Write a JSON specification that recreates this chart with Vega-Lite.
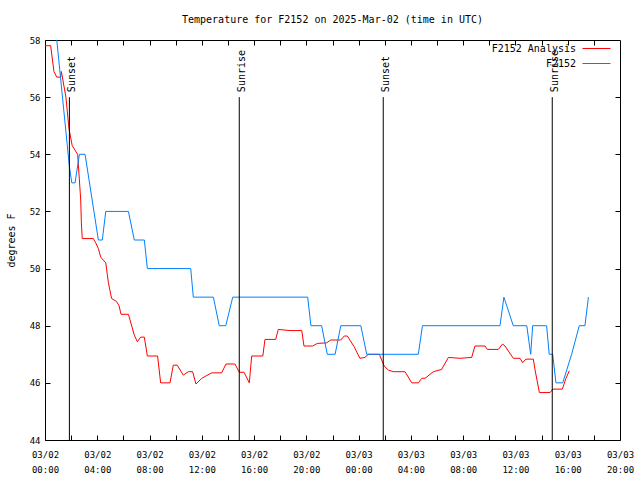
{
  "$schema": "https://vega.github.io/schema/vega-lite/v6.json",
  "width": 575,
  "height": 400,
  "autosize": {"type": "none"},
  "padding": {"left": 45, "top": 40, "right": 20, "bottom": 40},
  "background": "white",
  "title": {"text": "Temperature for F2152 on 2025-Mar-02 (time in UTC)", "font": "DejaVu Sans Mono", "fontSize": 10, "fontWeight": "normal", "color": "black", "offset": 11, "anchor": "middle", "frame": "group"},
  "config": {
    "view": {"stroke": "black", "strokeWidth": 1},
    "axis": {"grid": false, "domain": false, "tickColor": "black", "labelColor": "black", "labelFont": "DejaVu Sans Mono", "labelFontSize": 9, "titleFont": "DejaVu Sans Mono", "titleFontSize": 10, "titleFontWeight": "normal", "titleColor": "black", "tickSize": 5, "offset": -5},
    "legend": {"orient": "none", "legendX": 546, "legendY": 3, "padding": 0, "symbolType": "M-2.8,0H2.8", "symbolSize": 100, "symbolStrokeWidth": 1, "labelAlign": "right", "labelOffset": -26, "labelFont": "DejaVu Sans Mono", "labelFontSize": 10, "labelColor": "black", "rowPadding": 4}
  },
  "datasets": {
    "temps": [
      {"series": "F2152 Analysis", "time": "2025-03-02T00:00:00Z", "temp": 57.8},
      {"series": "F2152 Analysis", "time": "2025-03-02T00:26:00Z", "temp": 57.8},
      {"series": "F2152 Analysis", "time": "2025-03-02T00:41:00Z", "temp": 56.9},
      {"series": "F2152 Analysis", "time": "2025-03-02T00:54:00Z", "temp": 56.7},
      {"series": "F2152 Analysis", "time": "2025-03-02T01:12:00Z", "temp": 56.7},
      {"series": "F2152 Analysis", "time": "2025-03-02T01:15:00Z", "temp": 56.9},
      {"series": "F2152 Analysis", "time": "2025-03-02T01:36:00Z", "temp": 56.0},
      {"series": "F2152 Analysis", "time": "2025-03-02T01:50:00Z", "temp": 54.9},
      {"series": "F2152 Analysis", "time": "2025-03-02T02:05:00Z", "temp": 54.3},
      {"series": "F2152 Analysis", "time": "2025-03-02T02:30:00Z", "temp": 54.0},
      {"series": "F2152 Analysis", "time": "2025-03-02T02:44:00Z", "temp": 52.4},
      {"series": "F2152 Analysis", "time": "2025-03-02T02:47:00Z", "temp": 51.6},
      {"series": "F2152 Analysis", "time": "2025-03-02T02:51:00Z", "temp": 51.05},
      {"series": "F2152 Analysis", "time": "2025-03-02T03:42:00Z", "temp": 51.05},
      {"series": "F2152 Analysis", "time": "2025-03-02T03:53:00Z", "temp": 50.9},
      {"series": "F2152 Analysis", "time": "2025-03-02T04:05:00Z", "temp": 50.7},
      {"series": "F2152 Analysis", "time": "2025-03-02T04:16:00Z", "temp": 50.4},
      {"series": "F2152 Analysis", "time": "2025-03-02T04:39:00Z", "temp": 50.2},
      {"series": "F2152 Analysis", "time": "2025-03-02T04:46:00Z", "temp": 49.8},
      {"series": "F2152 Analysis", "time": "2025-03-02T04:51:00Z", "temp": 49.5},
      {"series": "F2152 Analysis", "time": "2025-03-02T05:06:00Z", "temp": 48.95},
      {"series": "F2152 Analysis", "time": "2025-03-02T05:28:00Z", "temp": 48.85},
      {"series": "F2152 Analysis", "time": "2025-03-02T05:40:00Z", "temp": 48.7},
      {"series": "F2152 Analysis", "time": "2025-03-02T05:49:00Z", "temp": 48.4},
      {"series": "F2152 Analysis", "time": "2025-03-02T06:23:00Z", "temp": 48.4},
      {"series": "F2152 Analysis", "time": "2025-03-02T06:50:00Z", "temp": 47.67},
      {"series": "F2152 Analysis", "time": "2025-03-02T07:04:00Z", "temp": 47.44},
      {"series": "F2152 Analysis", "time": "2025-03-02T07:19:00Z", "temp": 47.6},
      {"series": "F2152 Analysis", "time": "2025-03-02T07:36:00Z", "temp": 47.6},
      {"series": "F2152 Analysis", "time": "2025-03-02T07:50:00Z", "temp": 46.94},
      {"series": "F2152 Analysis", "time": "2025-03-02T08:37:00Z", "temp": 46.94},
      {"series": "F2152 Analysis", "time": "2025-03-02T08:51:00Z", "temp": 46.0},
      {"series": "F2152 Analysis", "time": "2025-03-02T09:34:00Z", "temp": 46.0},
      {"series": "F2152 Analysis", "time": "2025-03-02T09:49:00Z", "temp": 46.62},
      {"series": "F2152 Analysis", "time": "2025-03-02T10:07:00Z", "temp": 46.62},
      {"series": "F2152 Analysis", "time": "2025-03-02T10:35:00Z", "temp": 46.27},
      {"series": "F2152 Analysis", "time": "2025-03-02T10:58:00Z", "temp": 46.39},
      {"series": "F2152 Analysis", "time": "2025-03-02T11:18:00Z", "temp": 46.39},
      {"series": "F2152 Analysis", "time": "2025-03-02T11:33:00Z", "temp": 45.96},
      {"series": "F2152 Analysis", "time": "2025-03-02T12:00:00Z", "temp": 46.16},
      {"series": "F2152 Analysis", "time": "2025-03-02T12:45:00Z", "temp": 46.35},
      {"series": "F2152 Analysis", "time": "2025-03-02T13:31:00Z", "temp": 46.35},
      {"series": "F2152 Analysis", "time": "2025-03-02T13:51:00Z", "temp": 46.66},
      {"series": "F2152 Analysis", "time": "2025-03-02T14:32:00Z", "temp": 46.66},
      {"series": "F2152 Analysis", "time": "2025-03-02T14:52:00Z", "temp": 46.37},
      {"series": "F2152 Analysis", "time": "2025-03-02T15:14:00Z", "temp": 46.37},
      {"series": "F2152 Analysis", "time": "2025-03-02T15:38:00Z", "temp": 46.0},
      {"series": "F2152 Analysis", "time": "2025-03-02T15:49:00Z", "temp": 46.94},
      {"series": "F2152 Analysis", "time": "2025-03-02T16:40:00Z", "temp": 46.94},
      {"series": "F2152 Analysis", "time": "2025-03-02T16:50:00Z", "temp": 47.52},
      {"series": "F2152 Analysis", "time": "2025-03-02T17:39:00Z", "temp": 47.52},
      {"series": "F2152 Analysis", "time": "2025-03-02T17:51:00Z", "temp": 47.87},
      {"series": "F2152 Analysis", "time": "2025-03-02T18:45:00Z", "temp": 47.83},
      {"series": "F2152 Analysis", "time": "2025-03-02T19:39:00Z", "temp": 47.83},
      {"series": "F2152 Analysis", "time": "2025-03-02T19:49:00Z", "temp": 47.29},
      {"series": "F2152 Analysis", "time": "2025-03-02T20:29:00Z", "temp": 47.29},
      {"series": "F2152 Analysis", "time": "2025-03-02T20:50:00Z", "temp": 47.38},
      {"series": "F2152 Analysis", "time": "2025-03-02T21:33:00Z", "temp": 47.4},
      {"series": "F2152 Analysis", "time": "2025-03-02T21:52:00Z", "temp": 47.5},
      {"series": "F2152 Analysis", "time": "2025-03-02T22:38:00Z", "temp": 47.5},
      {"series": "F2152 Analysis", "time": "2025-03-02T22:54:00Z", "temp": 47.64},
      {"series": "F2152 Analysis", "time": "2025-03-02T23:08:00Z", "temp": 47.64},
      {"series": "F2152 Analysis", "time": "2025-03-02T23:39:00Z", "temp": 47.27},
      {"series": "F2152 Analysis", "time": "2025-03-03T00:06:00Z", "temp": 46.86},
      {"series": "F2152 Analysis", "time": "2025-03-03T00:29:00Z", "temp": 46.89},
      {"series": "F2152 Analysis", "time": "2025-03-03T00:44:00Z", "temp": 47.0},
      {"series": "F2152 Analysis", "time": "2025-03-03T01:35:00Z", "temp": 47.0},
      {"series": "F2152 Analysis", "time": "2025-03-03T01:57:00Z", "temp": 46.59},
      {"series": "F2152 Analysis", "time": "2025-03-03T02:16:00Z", "temp": 46.45},
      {"series": "F2152 Analysis", "time": "2025-03-03T02:39:00Z", "temp": 46.39},
      {"series": "F2152 Analysis", "time": "2025-03-03T03:33:00Z", "temp": 46.39},
      {"series": "F2152 Analysis", "time": "2025-03-03T04:04:00Z", "temp": 46.0},
      {"series": "F2152 Analysis", "time": "2025-03-03T04:34:00Z", "temp": 46.0},
      {"series": "F2152 Analysis", "time": "2025-03-03T04:50:00Z", "temp": 46.16},
      {"series": "F2152 Analysis", "time": "2025-03-03T05:05:00Z", "temp": 46.16},
      {"series": "F2152 Analysis", "time": "2025-03-03T05:43:00Z", "temp": 46.39},
      {"series": "F2152 Analysis", "time": "2025-03-03T06:21:00Z", "temp": 46.47},
      {"series": "F2152 Analysis", "time": "2025-03-03T06:52:00Z", "temp": 46.89},
      {"series": "F2152 Analysis", "time": "2025-03-03T07:45:00Z", "temp": 46.86},
      {"series": "F2152 Analysis", "time": "2025-03-03T08:39:00Z", "temp": 46.89},
      {"series": "F2152 Analysis", "time": "2025-03-03T08:54:00Z", "temp": 47.29},
      {"series": "F2152 Analysis", "time": "2025-03-03T09:40:00Z", "temp": 47.29},
      {"series": "F2152 Analysis", "time": "2025-03-03T09:51:00Z", "temp": 47.17},
      {"series": "F2152 Analysis", "time": "2025-03-03T10:41:00Z", "temp": 47.17},
      {"series": "F2152 Analysis", "time": "2025-03-03T11:01:00Z", "temp": 47.36},
      {"series": "F2152 Analysis", "time": "2025-03-03T11:12:00Z", "temp": 47.29},
      {"series": "F2152 Analysis", "time": "2025-03-03T11:50:00Z", "temp": 46.86},
      {"series": "F2152 Analysis", "time": "2025-03-03T12:21:00Z", "temp": 46.86},
      {"series": "F2152 Analysis", "time": "2025-03-03T12:33:00Z", "temp": 46.71},
      {"series": "F2152 Analysis", "time": "2025-03-03T12:48:00Z", "temp": 46.83},
      {"series": "F2152 Analysis", "time": "2025-03-03T13:22:00Z", "temp": 46.83},
      {"series": "F2152 Analysis", "time": "2025-03-03T13:30:00Z", "temp": 46.45},
      {"series": "F2152 Analysis", "time": "2025-03-03T13:50:00Z", "temp": 45.66},
      {"series": "F2152 Analysis", "time": "2025-03-03T14:39:00Z", "temp": 45.66},
      {"series": "F2152 Analysis", "time": "2025-03-03T14:51:00Z", "temp": 45.78},
      {"series": "F2152 Analysis", "time": "2025-03-03T15:35:00Z", "temp": 45.78},
      {"series": "F2152 Analysis", "time": "2025-03-03T15:52:00Z", "temp": 46.16},
      {"series": "F2152 Analysis", "time": "2025-03-03T16:07:00Z", "temp": 46.42},
      {"series": "F2152", "time": "2025-03-02T00:41:00Z", "temp": 59.0},
      {"series": "F2152", "time": "2025-03-02T01:52:00Z", "temp": 53.57},
      {"series": "F2152", "time": "2025-03-02T02:03:00Z", "temp": 53.0},
      {"series": "F2152", "time": "2025-03-02T02:18:00Z", "temp": 53.0},
      {"series": "F2152", "time": "2025-03-02T02:38:00Z", "temp": 54.0},
      {"series": "F2152", "time": "2025-03-02T03:04:00Z", "temp": 54.0},
      {"series": "F2152", "time": "2025-03-02T04:05:00Z", "temp": 51.0},
      {"series": "F2152", "time": "2025-03-02T04:23:00Z", "temp": 51.0},
      {"series": "F2152", "time": "2025-03-02T04:39:00Z", "temp": 52.0},
      {"series": "F2152", "time": "2025-03-02T06:23:00Z", "temp": 52.0},
      {"series": "F2152", "time": "2025-03-02T06:50:00Z", "temp": 51.0},
      {"series": "F2152", "time": "2025-03-02T07:36:00Z", "temp": 51.0},
      {"series": "F2152", "time": "2025-03-02T07:50:00Z", "temp": 50.0},
      {"series": "F2152", "time": "2025-03-02T11:09:00Z", "temp": 50.0},
      {"series": "F2152", "time": "2025-03-02T11:21:00Z", "temp": 49.0},
      {"series": "F2152", "time": "2025-03-02T12:53:00Z", "temp": 49.0},
      {"series": "F2152", "time": "2025-03-02T13:20:00Z", "temp": 48.0},
      {"series": "F2152", "time": "2025-03-02T13:50:00Z", "temp": 48.0},
      {"series": "F2152", "time": "2025-03-02T14:22:00Z", "temp": 49.0},
      {"series": "F2152", "time": "2025-03-02T20:06:00Z", "temp": 49.0},
      {"series": "F2152", "time": "2025-03-02T20:21:00Z", "temp": 48.0},
      {"series": "F2152", "time": "2025-03-02T21:10:00Z", "temp": 48.0},
      {"series": "F2152", "time": "2025-03-02T21:36:00Z", "temp": 47.0},
      {"series": "F2152", "time": "2025-03-02T22:12:00Z", "temp": 47.0},
      {"series": "F2152", "time": "2025-03-02T22:38:00Z", "temp": 48.0},
      {"series": "F2152", "time": "2025-03-03T00:10:00Z", "temp": 48.0},
      {"series": "F2152", "time": "2025-03-03T00:37:00Z", "temp": 47.0},
      {"series": "F2152", "time": "2025-03-03T04:34:00Z", "temp": 47.0},
      {"series": "F2152", "time": "2025-03-03T04:53:00Z", "temp": 48.0},
      {"series": "F2152", "time": "2025-03-03T10:49:00Z", "temp": 48.0},
      {"series": "F2152", "time": "2025-03-03T11:07:00Z", "temp": 49.0},
      {"series": "F2152", "time": "2025-03-03T11:50:00Z", "temp": 48.0},
      {"series": "F2152", "time": "2025-03-03T12:52:00Z", "temp": 48.0},
      {"series": "F2152", "time": "2025-03-03T13:10:00Z", "temp": 47.0},
      {"series": "F2152", "time": "2025-03-03T13:19:00Z", "temp": 48.0},
      {"series": "F2152", "time": "2025-03-03T14:23:00Z", "temp": 48.0},
      {"series": "F2152", "time": "2025-03-03T14:35:00Z", "temp": 47.0},
      {"series": "F2152", "time": "2025-03-03T14:51:00Z", "temp": 47.0},
      {"series": "F2152", "time": "2025-03-03T15:06:00Z", "temp": 46.0},
      {"series": "F2152", "time": "2025-03-03T15:37:00Z", "temp": 46.0},
      {"series": "F2152", "time": "2025-03-03T16:18:00Z", "temp": 47.0},
      {"series": "F2152", "time": "2025-03-03T16:53:00Z", "temp": 48.0},
      {"series": "F2152", "time": "2025-03-03T17:19:00Z", "temp": 48.0},
      {"series": "F2152", "time": "2025-03-03T17:35:00Z", "temp": 49.0}
    ],
    "sun": [
      {"time": "2025-03-02T01:52:00Z", "label": "Sunset"},
      {"time": "2025-03-02T14:52:00Z", "label": "Sunrise"},
      {"time": "2025-03-03T01:53:00Z", "label": "Sunset"},
      {"time": "2025-03-03T14:49:00Z", "label": "Sunrise"}
    ]
  },
  "layer": [
    {
      "data": {"name": "temps"},
      "mark": {"type": "line", "strokeWidth": 1, "clip": true},
      "encoding": {
        "x": {"field": "time", "type": "temporal",
          "scale": {"type": "utc", "domain": [{"year": 2025, "month": 3, "date": 2, "hours": 0, "utc": true}, {"year": 2025, "month": 3, "date": 3, "hours": 20, "utc": true}]},
          "axis": {"orient": "bottom", "title": null, "labelOverlap": false, "labelFlush": false, "labelPadding": 10, "labelLineHeight": 15,
            "values": [
              {"year": 2025, "month": 3, "date": 2, "hours": 0, "utc": true},
              {"year": 2025, "month": 3, "date": 2, "hours": 2, "utc": true},
              {"year": 2025, "month": 3, "date": 2, "hours": 4, "utc": true},
              {"year": 2025, "month": 3, "date": 2, "hours": 6, "utc": true},
              {"year": 2025, "month": 3, "date": 2, "hours": 8, "utc": true},
              {"year": 2025, "month": 3, "date": 2, "hours": 10, "utc": true},
              {"year": 2025, "month": 3, "date": 2, "hours": 12, "utc": true},
              {"year": 2025, "month": 3, "date": 2, "hours": 14, "utc": true},
              {"year": 2025, "month": 3, "date": 2, "hours": 16, "utc": true},
              {"year": 2025, "month": 3, "date": 2, "hours": 18, "utc": true},
              {"year": 2025, "month": 3, "date": 2, "hours": 20, "utc": true},
              {"year": 2025, "month": 3, "date": 2, "hours": 22, "utc": true},
              {"year": 2025, "month": 3, "date": 3, "hours": 0, "utc": true},
              {"year": 2025, "month": 3, "date": 3, "hours": 2, "utc": true},
              {"year": 2025, "month": 3, "date": 3, "hours": 4, "utc": true},
              {"year": 2025, "month": 3, "date": 3, "hours": 6, "utc": true},
              {"year": 2025, "month": 3, "date": 3, "hours": 8, "utc": true},
              {"year": 2025, "month": 3, "date": 3, "hours": 10, "utc": true},
              {"year": 2025, "month": 3, "date": 3, "hours": 12, "utc": true},
              {"year": 2025, "month": 3, "date": 3, "hours": 14, "utc": true},
              {"year": 2025, "month": 3, "date": 3, "hours": 16, "utc": true},
              {"year": 2025, "month": 3, "date": 3, "hours": 18, "utc": true},
              {"year": 2025, "month": 3, "date": 3, "hours": 20, "utc": true}
            ],
            "labelExpr": "utchours(datum.value) % 4 == 0 ? [utcFormat(datum.value, '%m/%d'), utcFormat(datum.value, '%H:%M')] : ''"}},
        "y": {"field": "temp", "type": "quantitative",
          "scale": {"domain": [44, 58], "nice": false, "zero": false},
          "axis": {"orient": "left", "title": "degrees F", "values": [44, 46, 48, 50, 52, 54, 56, 58], "labelPadding": 5, "titlePadding": 13}},
        "color": {"field": "series", "type": "nominal",
          "scale": {"domain": ["F2152 Analysis", "F2152"], "range": ["#ff0000", "#0080ff"]},
          "legend": {"title": null, "encode": {"symbols": {"update": {"stroke": {"scale": "color", "field": "value"}, "fill": {"value": "transparent"}, "strokeWidth": {"value": 1}, "opacity": {"value": 1}}}}}}
      }
    },
    {
      "data": {"name": "sun"},
      "mark": {"type": "rule", "color": "black", "strokeWidth": 1},
      "encoding": {
        "x": {"field": "time", "type": "temporal",
          "axis": {"orient": "top", "title": null, "labels": false,
            "values": [
              {"year": 2025, "month": 3, "date": 2, "hours": 2, "utc": true},
              {"year": 2025, "month": 3, "date": 2, "hours": 4, "utc": true},
              {"year": 2025, "month": 3, "date": 2, "hours": 6, "utc": true},
              {"year": 2025, "month": 3, "date": 2, "hours": 8, "utc": true},
              {"year": 2025, "month": 3, "date": 2, "hours": 10, "utc": true},
              {"year": 2025, "month": 3, "date": 2, "hours": 12, "utc": true},
              {"year": 2025, "month": 3, "date": 2, "hours": 14, "utc": true},
              {"year": 2025, "month": 3, "date": 2, "hours": 16, "utc": true},
              {"year": 2025, "month": 3, "date": 2, "hours": 18, "utc": true},
              {"year": 2025, "month": 3, "date": 2, "hours": 20, "utc": true},
              {"year": 2025, "month": 3, "date": 2, "hours": 22, "utc": true},
              {"year": 2025, "month": 3, "date": 3, "hours": 0, "utc": true},
              {"year": 2025, "month": 3, "date": 3, "hours": 2, "utc": true},
              {"year": 2025, "month": 3, "date": 3, "hours": 4, "utc": true},
              {"year": 2025, "month": 3, "date": 3, "hours": 6, "utc": true},
              {"year": 2025, "month": 3, "date": 3, "hours": 8, "utc": true},
              {"year": 2025, "month": 3, "date": 3, "hours": 10, "utc": true},
              {"year": 2025, "month": 3, "date": 3, "hours": 12, "utc": true},
              {"year": 2025, "month": 3, "date": 3, "hours": 14, "utc": true},
              {"year": 2025, "month": 3, "date": 3, "hours": 16, "utc": true},
              {"year": 2025, "month": 3, "date": 3, "hours": 18, "utc": true}
            ]}},
        "y": {"datum": 44, "type": "quantitative",
          "axis": {"orient": "right", "title": null, "labels": false, "values": [46, 48, 50, 52, 54, 56]}},
        "y2": {"datum": 56}
      }
    },
    {
      "data": {"name": "sun"},
      "mark": {"type": "text", "angle": 270, "align": "left", "baseline": "middle", "dx": 5, "dy": 3, "font": "DejaVu Sans Mono", "fontSize": 10, "color": "black"},
      "encoding": {
        "x": {"field": "time", "type": "temporal", "axis": null},
        "y": {"datum": 56, "type": "quantitative", "axis": null},
        "text": {"field": "label"}
      }
    }
  ],
  "resolve": {"axis": {"x": "independent", "y": "independent"}}
}
